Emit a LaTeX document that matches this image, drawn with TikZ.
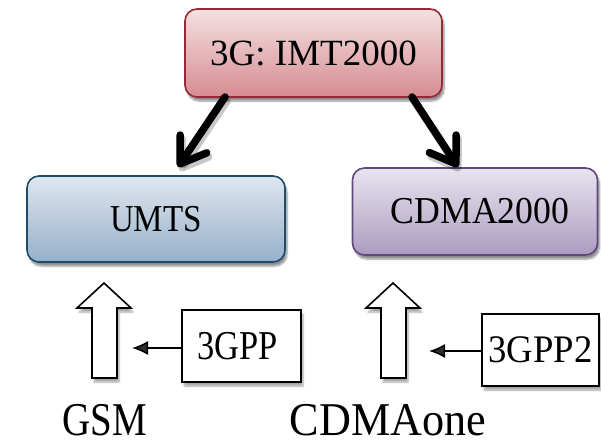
\documentclass[tikz,border=0pt]{standalone}
\usepackage{fontspec}
\usepackage{graphicx}
\setmainfont{Liberation Serif}
\usetikzlibrary{arrows.meta,shadows.blur}
\newcommand{\sx}[2]{\scalebox{#1}[1]{#2}}
\definecolor{topT}{RGB}{244,225,226}
\definecolor{topB}{RGB}{214,140,145}
\definecolor{topD}{RGB}{150,40,55}
\definecolor{umT}{RGB}{224,230,238}
\definecolor{umB}{RGB}{150,176,202}
\definecolor{umD}{RGB}{28,78,108}
\definecolor{cdT}{RGB}{232,228,238}
\definecolor{cdB}{RGB}{172,156,192}
\definecolor{cdD}{RGB}{95,72,125}
\begin{document}
\begin{tikzpicture}[x=1pt,y=-1pt,
  rbox/.style={draw, rounded corners=12pt, line width=1.6pt, inner sep=0pt,
    blur shadow={shadow xshift=2pt, shadow yshift=-4pt, shadow blur steps=6, shadow opacity=45}},
  sbox/.style={draw, line width=1.6pt, inner sep=0pt, fill=white,
    blur shadow={shadow xshift=2pt, shadow yshift=-4pt, shadow blur steps=6, shadow opacity=35}},
  bigarrow/.style={line width=7.5pt, line cap=round, -{Straight Barb[length=24pt,width=32pt,round]}},
  bigshadow/.style={bigarrow, black, opacity=0.22, transform canvas={shift={(2pt,-4pt)}}},
  hollow/.style={draw, line width=1.6pt, fill=white, line join=miter,
    blur shadow={shadow xshift=2pt, shadow yshift=-4pt, shadow blur steps=6, shadow opacity=35}},
  smallarrow/.style={line width=1.5pt, -{Latex[length=16pt,width=14pt]}},
  lbl/.style={anchor=base, inner sep=0pt}
]
\useasboundingbox (0,0) rectangle (601,444);

% boxes
\node[rbox, draw=topD, top color=topT, bottom color=topB,
      minimum width=257pt, minimum height=88pt] (top) at (313.5,53)
      {\fontsize{37}{40}\selectfont 3G: IMT2000};
\node[rbox, draw=umD, top color=umT, bottom color=umB,
      minimum width=258pt, minimum height=86pt] (umts) at (156,219)
      {\fontsize{38}{42}\selectfont\sx{0.87}{UMTS}};
\node[rbox, draw=cdD, top color=cdT, bottom color=cdB,
      minimum width=245pt, minimum height=87pt] (cdma) at (475,211.5)
      {\hspace*{10pt}\fontsize{38}{42}\selectfont\sx{0.94}{CDMA2000}};

% black arrows
\coordinate (a1s) at (225,97);
\coordinate (a1e) at (178,167);
\coordinate (a2s) at (412,97);
\coordinate (a2e) at (458,167);
\draw[bigshadow] (a1s) -- (a1e);
\draw[bigshadow] (a2s) -- (a2e);
\draw[bigarrow] (a1s) -- (a1e);
\draw[bigarrow] (a2s) -- (a2e);

% hollow arrows
\draw[hollow] (104,283) -- (131,308) -- (117,308) -- (117,378) -- (92,378) -- (92,308) -- (77,308) -- cycle;
\draw[hollow] (393,283) -- (420,308) -- (406,308) -- (406,378) -- (381,378) -- (381,308) -- (366,308) -- cycle;

% small boxes
\node[sbox, minimum width=119pt, minimum height=72pt] (g3) at (241.5,346)
      {\hspace*{-8pt}\fontsize{41}{44}\selectfont\sx{0.84}{3GPP}};
\node[sbox, minimum width=117pt, minimum height=72pt] (g32) at (540.5,350)
      {\fontsize{39}{42}\selectfont\sx{0.94}{3GPP2}};

% small arrows
\coordinate (t1) at (132,348);
\coordinate (t2) at (429,351);
\draw[smallarrow] (g3.west |- t1) -- (t1);
\draw[smallarrow] (g32.west |- t2) -- (t2);

% bottom labels
\node[lbl] (gsm) at (105,435) {\fontsize{47}{50}\selectfont\sx{0.83}{GSM}};
\node[lbl] (cdone) at (388,435) {\fontsize{47}{50}\selectfont\sx{0.94}{CDMAone}};
\end{tikzpicture}
\end{document}
